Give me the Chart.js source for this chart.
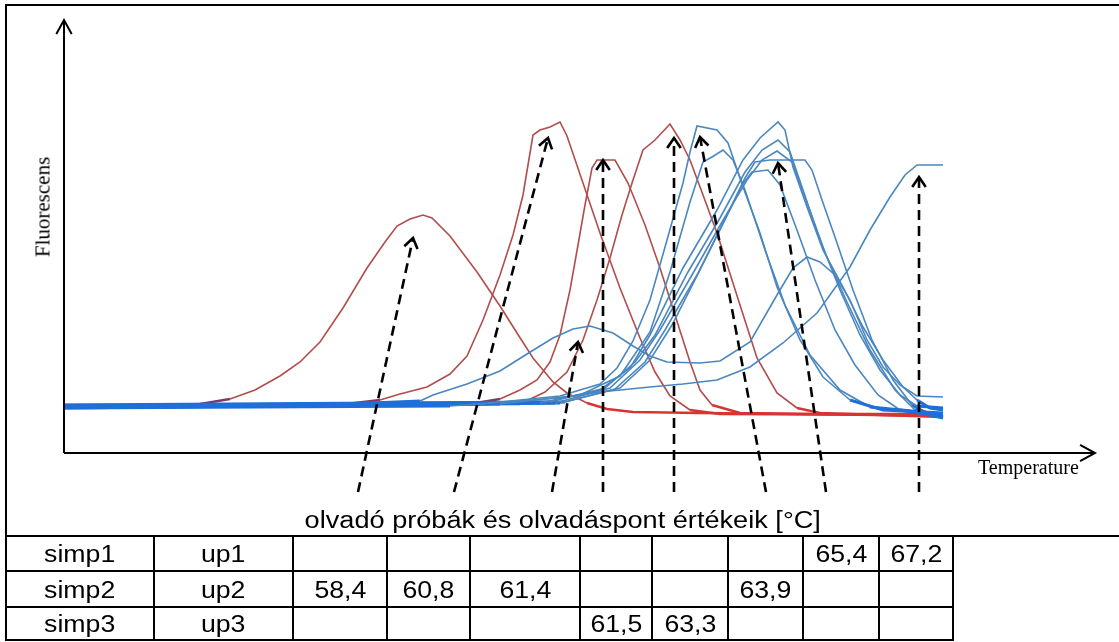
<!DOCTYPE html>
<html>
<head>
<meta charset="utf-8">
<script src="https://cdn.jsdelivr.net/npm/chart.js@4/dist/chart.umd.min.js"></script>
<style>
  html, body { margin: 0; padding: 0; background: #fff; }
  #page { position: relative; width: 1119px; height: 642px; overflow: hidden; background: #fff; }
  #plot { position: absolute; left: 0; top: 0; }
  .rule { position: absolute; background: #000; }
  .txt { position: absolute; white-space: nowrap; color: #000; }
  .sans { font-family: "Liberation Sans", Arial, sans-serif; font-size: 23px; }
  .serif { font-family: "Liberation Serif", "Times New Roman", serif; font-size: 20px; }
  .wide { display: inline-block; transform: scaleX(1.16); transform-origin: 50% 50%; }
</style>
</head>
<body>
<div id="page">
  <canvas id="plot" width="1119" height="642"></canvas>
</div>
<script>
// Melting curves: [temperature position, fluorescence] pairs
const redCurve1 = [[50.0,11.75],[52.15,11.75],[53.4,12.25],[54.15,13.5],[54.775,15.75],[55.4,19.25],[55.9,22.75],[56.4,27.75],[56.975,36.25],[57.575,46.25],[58.025,52.75],[58.325,56.75],[58.65,58.5],[58.975,59.5],[59.2,58.75],[59.65,54.25],[60.325,45.25],[60.9,36.75],[61.325,30.0],[61.725,23.75],[62.225,17.75],[62.575,15.0],[63.075,12.5],[63.575,11.0],[64.225,10.25],[65.9,10.0],[68.4,9.75],[71.975,9.75]];
const redCurve2 = [[50.0,11.5],[56.65,11.75],[57.9,13.25],[58.4,14.75],[59.075,16.5],[59.65,19.75],[60.075,24.25],[60.475,33.25],[60.9,44.5],[61.225,54.5],[61.475,64.5],[61.725,79.5],[61.9,80.75],[62.15,81.5],[62.4,82.75],[62.575,79.25],[62.975,67.5],[63.4,55.0],[63.9,41.25],[64.4,28.75],[64.775,20.25],[65.15,14.25],[65.65,10.75],[66.4,9.75],[71.975,9.5]];
const redCurve3 = [[50.0,12.0],[60.15,12.25],[60.9,13.5],[61.4,15.75],[61.825,18.25],[62.15,22.75],[62.4,29.5],[62.65,40.75],[62.85,52.0],[63.025,62.0],[63.2,71.25],[63.325,73.25],[63.775,73.25],[64.1,67.5],[64.525,57.0],[64.9,46.25],[65.275,34.5],[65.65,22.75],[65.9,15.75],[66.2,12.0],[66.9,10.0],[71.975,9.25]];
const redCurve4 = [[50.0,11.75],[61.4,12.25],[62.025,15.25],[62.575,20.25],[62.975,28.25],[63.325,38.25],[63.65,48.75],[63.95,59.5],[64.225,68.25],[64.475,75.75],[64.775,78.25],[65.15,82.25],[65.4,78.25],[65.65,73.25],[65.975,64.5],[66.325,55.0],[66.9,37.0],[67.325,23.75],[67.825,15.0],[68.325,11.25],[68.9,10.0],[71.975,9.0]];

const blueCurve1 = [[50.0,11.5],[55.9,11.75],[58.9,13.0],[59.225,14.5],[60.075,17.25],[60.9,20.5],[61.575,24.75],[62.225,28.75],[62.725,31.0],[63.15,31.75],[63.725,30.0],[64.225,26.75],[64.65,24.25],[65.075,22.75],[65.9,22.5],[66.4,23.0],[67.15,27.75],[67.825,39.5],[68.225,46.25],[68.575,49.0],[68.9,47.75],[69.275,44.5],[69.65,38.25],[70.075,28.25],[70.475,21.5],[70.9,17.0],[71.325,14.25],[71.975,14.0]];
const blueCurve2 = [[50.0,11.25],[59.65,11.75],[62.4,13.75],[63.4,15.25],[64.65,16.5],[65.475,17.25],[66.325,18.25],[67.15,21.5],[67.975,27.5],[68.825,35.0],[69.65,46.5],[70.15,55.75],[70.65,64.0],[71.025,69.5],[71.325,72.0],[71.975,72.0]];
const blueCurve3 = [[50.0,11.75],[60.4,12.25],[62.4,14.25],[63.4,17.25],[63.825,21.25],[64.225,28.0],[64.65,38.25],[65.075,53.25],[65.475,67.5],[65.65,75.25],[65.825,81.75],[66.325,80.75],[66.6,77.5],[66.975,66.5],[67.4,55.0],[67.825,41.5],[68.4,28.25],[68.975,19.0],[69.65,13.25],[70.475,10.75],[71.975,10.0]];
const blueCurve4 = [[50.0,11.5],[60.9,12.25],[62.9,14.5],[63.9,19.25],[64.65,30.25],[65.15,45.25],[65.65,62.75],[65.975,72.75],[66.2,74.0],[66.475,75.75],[66.725,73.25],[67.025,65.75],[67.525,50.75],[68.025,37.0],[68.65,24.5],[69.4,15.75],[70.15,11.5],[71.975,9.75]];
const blueCurve5 = [[50.0,11.75],[61.9,12.5],[63.4,15.75],[64.15,21.25],[64.65,29.5],[65.475,46.25],[66.325,60.75],[66.975,73.25],[67.4,78.75],[67.85,82.75],[68.025,80.75],[68.225,71.5],[68.575,61.5],[68.975,50.75],[69.475,41.5],[69.975,31.5],[70.475,23.25],[70.975,16.5],[71.325,13.25],[71.65,11.25],[71.975,10.75]];
const blueCurve6 = [[50.0,12.0],[62.15,12.75],[63.525,16.25],[64.275,22.75],[64.775,29.5],[65.6,45.25],[66.4,58.75],[67.025,70.25],[67.45,75.75],[67.85,78.25],[68.15,75.25],[68.475,65.75],[68.9,53.25],[69.4,40.75],[69.9,29.5],[70.4,20.75],[70.9,14.5],[71.325,11.75],[71.975,11.25]];
const blueCurve7 = [[50.0,11.25],[62.275,12.5],[63.65,16.25],[64.4,23.25],[64.9,30.75],[65.7,44.5],[66.45,57.75],[67.075,68.25],[67.45,73.25],[67.825,75.5],[68.2,72.75],[68.55,63.25],[69.05,49.5],[69.55,38.25],[70.15,25.75],[70.775,15.75],[71.275,10.75],[71.975,9.25]];
const blueCurve8 = [[50.0,11.5],[62.4,12.5],[63.775,16.0],[64.525,22.75],[65.025,30.75],[65.825,44.5],[66.575,59.5],[67.025,68.75],[67.275,72.75],[67.65,73.25],[68.525,73.25],[68.7,70.75],[68.95,63.25],[69.3,53.25],[69.725,40.75],[70.2,28.25],[70.725,18.25],[71.2,12.0],[71.65,9.5],[71.975,8.75]];
const blueCurve9 = [[50.0,11.75],[62.525,12.75],[63.9,16.25],[64.65,23.25],[65.2,32.0],[65.9,45.75],[66.525,58.25],[66.95,67.0],[67.2,70.25],[67.6,70.75],[67.9,67.0],[68.325,55.75],[68.775,43.25],[69.275,30.75],[69.775,22.0],[70.35,14.5],[70.9,10.75],[71.975,9.0]];

const redCurves = [redCurve1, redCurve2, redCurve3, redCurve4];
const blueCurves = [blueCurve1, blueCurve2, blueCurve3, blueCurve4, blueCurve5, blueCurve6, blueCurve7, blueCurve8, blueCurve9];

// Dashed pointers: foot on the caption line, tip at a melting peak
const pointerFootT = [57.35, 59.75, 62.2, 63.475, 65.25, 67.55, 69.05, 71.375];
const pointerTipT  = [58.725, 62.1, 62.85, 63.475, 65.25, 65.9, 67.85, 71.375];
const pointerTipF  = [53.75, 78.75, 27.75, 73.25, 78.75, 79.0, 72.5, 69.0];
const pointerFootF = -9.75;

// Table under the plot
const caption = 'olvadó próbák és olvadáspont értékeik [°C]';
const probeNames = ['simp1', 'simp2', 'simp3'];
const primerNames = ['up1', 'up2', 'up3'];
const meltingPoints = [
  ['', '', '', '', '', '', '65,4', '67,2'],
  ['58,4', '60,8', '61,4', '', '', '63,9', '', ''],
  ['', '', '', '61,5', '63,3', '', '', '']
];
const axisLabelY = 'Fluorescens';
const axisLabelX = 'Temperature';

// ---- page furniture -------------------------------------------------
const page = document.getElementById('page');
function rule(l, t, w, h) {
  const d = document.createElement('div');
  d.className = 'rule';
  Object.assign(d.style, { left: l + 'px', top: t + 'px', width: w + 'px', height: h + 'px' });
  page.appendChild(d);
}
function text(str, cls, l, t, w, h, scale) {
  const d = document.createElement('div');
  d.className = 'txt ' + cls;
  Object.assign(d.style, { left: l + 'px', top: t + 'px', width: w + 'px', height: h + 'px',
    lineHeight: h + 'px', textAlign: 'center' });
  const s = document.createElement('span');
  s.className = 'wide';
  if (scale) s.style.transform = 'scaleX(' + scale + ')';
  s.textContent = str;
  d.appendChild(s);
  page.appendChild(d);
}

// outer frame and caption separator
rule(5, 4, 1114, 2);
rule(5, 4, 2, 637);
rule(5, 535, 1114, 2);

// table grid
const colEdges = [6, 154, 293, 387, 470, 580, 652, 728, 803, 879, 953];
const rowEdges = [536, 571, 607, 640];
rowEdges.slice(1).forEach(y => rule(5, y - 1, colEdges[colEdges.length - 1] - 4, 2));
colEdges.slice(1).forEach(x => rule(x - 1, 535, 2, 106));

text(caption, 'sans', 6, 505, 1113, 30, 1.18);
for (let r = 0; r < 3; r++) {
  const top = rowEdges[r] + 1, h = rowEdges[r + 1] - rowEdges[r];
  const cells = [probeNames[r], primerNames[r]].concat(meltingPoints[r]);
  cells.forEach((v, c) => {
    if (v) text(v, 'sans', colEdges[c], top, colEdges[c + 1] - colEdges[c], h);
  });
}

// axis titles
const yl = document.createElement('div');
yl.className = 'txt serif';
yl.style.fontSize = '21px';
yl.textContent = axisLabelY;
Object.assign(yl.style, { left: '43px', top: '207px', transform: 'translate(-50%,-50%) rotate(-90deg)' });
page.appendChild(yl);
const xl = document.createElement('div');
xl.className = 'txt serif';
xl.textContent = axisLabelX;
Object.assign(xl.style, { left: '978px', top: '457px', lineHeight: '20px' });
page.appendChild(xl);

// ---- chart -----------------------------------------------------------
const RED = '#b14d4b', RED_BASE_L = '#7f3a64', RED_BASE_R = '#d83434';
const BLUE = '#4a87c0', BLUE_BASE = '#1f6fd8';
const nearBase = c => c.p0.parsed.y < 13.6 && c.p1.parsed.y < 13.6;

function curveSet(points, isRed) {
  return {
    data: points.map(p => ({ x: p[0], y: p[1] })),
    borderColor: isRed ? RED : BLUE,
    borderWidth: 1.6,
    pointRadius: 0,
    fill: false,
    tension: 0,
    segment: {
      borderWidth: c => nearBase(c) ? (isRed ? 2.4 : 3) : undefined,
      borderColor: c => {
        if (!nearBase(c)) return undefined;
        if (isRed) return c.p0.parsed.x < 62 ? RED_BASE_L : RED_BASE_R;
        return BLUE_BASE;
      }
    }
  };
}

function chevron(ctx, tx, ty, ang, len, spread) {
  ctx.beginPath();
  ctx.moveTo(tx - len * Math.cos(ang - spread), ty - len * Math.sin(ang - spread));
  ctx.lineTo(tx, ty);
  ctx.lineTo(tx - len * Math.cos(ang + spread), ty - len * Math.sin(ang + spread));
  ctx.stroke();
}

const arrowsPlugin = {
  id: 'arrows',
  afterDatasetsDraw(chart) {
    const { ctx, chartArea: a, scales: { x, y } } = chart;
    ctx.save();
    ctx.strokeStyle = '#000';
    ctx.lineCap = 'butt';
    ctx.lineJoin = 'miter';
    // axes with open arrow heads
    ctx.lineWidth = 2;
    ctx.setLineDash([]);
    ctx.beginPath();
    ctx.moveTo(a.left, a.bottom);
    ctx.lineTo(a.left, a.top - 1);
    ctx.moveTo(a.left, a.bottom);
    ctx.lineTo(a.right + 1, a.bottom);
    ctx.stroke();
    chevron(ctx, a.left, a.top - 2, -Math.PI / 2, 16, 0.5);
    chevron(ctx, a.right + 2, a.bottom, 0, 17, 0.5);
    // dashed pointers
    ctx.lineWidth = 2.6;
    for (let i = 0; i < pointerTipT.length; i++) {
      const fx = x.getPixelForValue(pointerFootT[i]);
      const fy = y.getPixelForValue(pointerFootF);
      const tx = x.getPixelForValue(pointerTipT[i]);
      const ty = y.getPixelForValue(pointerTipF[i]);
      const ang = Math.atan2(ty - fy, tx - fx);
      ctx.setLineDash([10, 6]);
      ctx.beginPath();
      ctx.moveTo(fx, fy);
      ctx.lineTo(tx, ty);
      ctx.stroke();
      ctx.setLineDash([]);
      chevron(ctx, tx, ty, ang, 12, 0.6);
    }
    ctx.restore();
  }
};

const datasets = blueCurves.map(c => curveSet(c, false)).concat(redCurves.map(c => curveSet(c, true)));

new Chart(document.getElementById('plot'), {
  type: 'line',
  data: { datasets },
  options: {
    responsive: false,
    animation: false,
    events: [],
    layout: { padding: { left: 64, top: 22, right: 26, bottom: 189 } },
    scales: {
      x: { type: 'linear', min: 50, max: 75.725, display: false },
      y: { type: 'linear', min: 0, max: 107.75, display: false }
    },
    plugins: { legend: { display: false }, tooltip: { enabled: false } }
  },
  plugins: [arrowsPlugin]
});
</script>
</body>
</html>
